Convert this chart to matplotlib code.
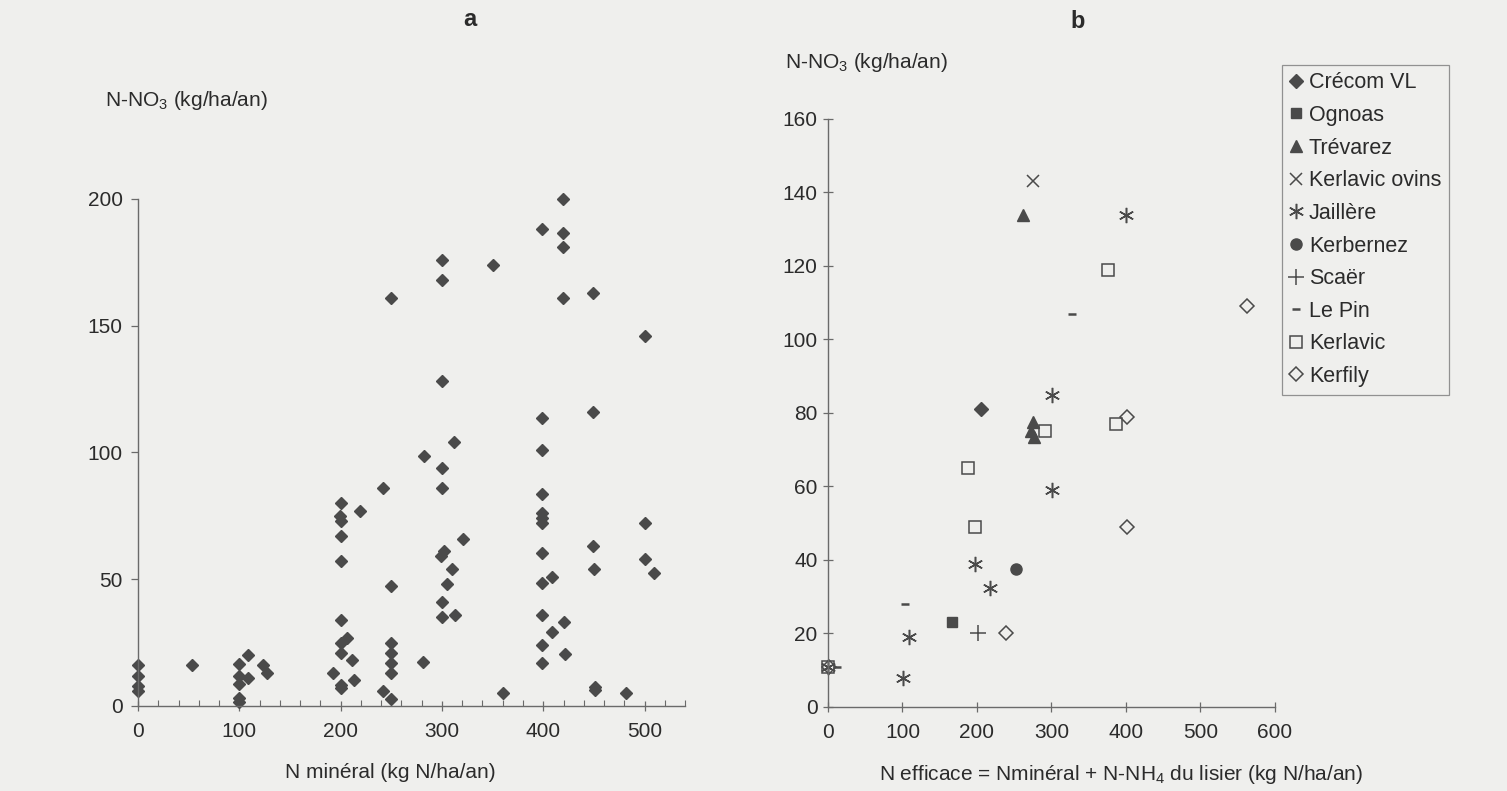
import matplotlib
matplotlib.use("Agg")
import matplotlib.pyplot as plt
from matplotlib.ticker import MultipleLocator

plt.rcParams['font.family'] = ['Liberation Sans', 'DejaVu Sans']
plt.rcParams['mathtext.fontset'] = 'custom'
plt.rcParams['mathtext.rm'] = 'Liberation Sans'
plt.rcParams['mathtext.it'] = 'Liberation Sans'
plt.rcParams['mathtext.default'] = 'rm'

# panel a : N minéral vs N-NO3 (one series, Crécom-type diamonds)
a_x = [0, 0, 0, 0, 53,
       100, 100, 100, 100, 100, 109, 109, 123, 127,
       200, 199, 200, 219, 200, 200, 200, 206, 200, 200, 211, 192, 213, 200, 200,
       242, 250, 250, 250, 250, 250, 242, 250, 282, 281,
       300, 300, 299, 302, 310, 305, 300, 300, 313, 312, 321,
       300, 300, 250, 350, 300,
       399, 419, 419, 419, 419, 449, 500, 449, 399, 399, 399, 399, 399, 399,
       500, 399, 449, 500, 450, 509, 399, 409, 399, 420, 409, 399, 421, 399,
       360, 451, 451, 482]
a_y = [16, 12, 8, 6, 16,
       16.5, 12, 8.7, 3.2, 1.7, 20, 11, 16, 13,
       80, 75, 73, 77, 67, 57, 34, 27, 25, 21, 18, 13, 10.4, 8.4, 6.9,
       86, 47.4, 24.7, 20.8, 16.9, 13, 5.8, 2.6, 98.5, 17.5,
       94, 86, 59, 61, 54, 48, 41, 35, 36, 104, 66,
       176, 168, 161, 174, 128,
       188, 200, 186.5, 181, 161, 163, 146, 116, 113.5, 101, 83.5, 76, 74, 72,
       72, 60.5, 63, 58, 54, 52.5, 48.5, 51, 36, 33, 29, 24, 20.5, 17,
       5, 7.5, 6.3, 5]

# panel b : N efficace vs N-NO3, per site
crecom_x, crecom_y = [206], [81]
ognoas_x, ognoas_y = [167], [23]
trevarez_x, trevarez_y = [262, 275, 273, 277], [134, 77.5, 75, 73.5]
ovins_x, ovins_y = [275], [143]
jaillere_x = [400, 301, 301, 198, 218, 109, 101, 0]
jaillere_y = [134, 85, 59, 39, 32.5, 19, 8, 11]
kerbernez_x, kerbernez_y = [252], [37.5]
scaer_x, scaer_y = [202], [20]
lepin_x, lepin_y = [328, 104, 12], [107, 28, 11]
kerlavic_x = [376, 291, 386, 188, 198, 0]
kerlavic_y = [119, 75, 77, 65, 49, 11]
kerfily_x = [562, 401, 401, 239, 2]
kerfily_y = [109, 79, 49, 20, 11]

ink = '#4a4a4a'
txt = '#2b2b2b'
bg = '#efefed'

fig = plt.figure(figsize=(15.07, 7.91), dpi=100, facecolor=bg)

ax_a = fig.add_axes([0.0916, 0.1075, 0.363, 0.641])
ax_b = fig.add_axes([0.5494, 0.1062, 0.2966, 0.7434])

for ax in (ax_a, ax_b):
    ax.set_facecolor(bg)
    for s in ('top', 'right'):
        ax.spines[s].set_visible(False)
    for s in ('left', 'bottom'):
        ax.spines[s].set_color('#6a6a6a')
        ax.spines[s].set_linewidth(1.0)
    ax.tick_params(colors='#6a6a6a', labelcolor=txt, labelsize=15, width=0.9)

# ---- panel a
ax_a.plot(a_x, a_y, 'D', ms=6.5, color=ink, mec=ink, clip_on=False)
ax_a.set_xlim(0, 540)
ax_a.set_ylim(0, 200)
ax_a.xaxis.set_major_locator(MultipleLocator(100))
ax_a.xaxis.set_minor_locator(MultipleLocator(20))
ax_a.yaxis.set_major_locator(MultipleLocator(50))
ax_a.tick_params(axis='x', which='major', direction='inout', length=7, pad=8)
ax_a.tick_params(axis='x', which='minor', direction='in', length=4, color='#6a6a6a', width=0.8)
ax_a.tick_params(axis='y', which='major', direction='out', length=5, pad=6)
ax_a.set_xticks([0, 100, 200, 300, 400, 500])

# ---- panel b
mk = dict(ls='none', color=ink, clip_on=False)
h = []
h += ax_b.plot(crecom_x, crecom_y, marker='D', ms=7, mec=ink, label='Crécom VL', **mk)
h += ax_b.plot(ognoas_x, ognoas_y, marker='s', ms=6.5, mec=ink, label='Ognoas', **mk)
h += ax_b.plot(trevarez_x, trevarez_y, marker='^', ms=8, mec=ink, label='Trévarez', **mk)
h += ax_b.plot(ovins_x, ovins_y, marker='x', ms=9, mew=1.1, label='Kerlavic ovins', **mk)
h += ax_b.plot(jaillere_x, jaillere_y, marker=(6, 2, 0), ms=11, mew=1.1, label='Jaillère', **mk)
h += ax_b.plot(kerbernez_x, kerbernez_y, marker='o', ms=8, mec=ink, label='Kerbernez', **mk)
h += ax_b.plot(scaer_x, scaer_y, marker='+', ms=11, mew=1.1, label='Scaër', **mk)
h += ax_b.plot(lepin_x, lepin_y, marker='_', ms=6, mew=1.8, label='Le Pin', **mk)
h += ax_b.plot(kerlavic_x, kerlavic_y, marker='s', ms=9, mfc='none', mew=1.1, label='Kerlavic', **mk)
h += ax_b.plot(kerfily_x, kerfily_y, marker='D', ms=7.5, mfc='none', mew=1.1, label='Kerfily', **mk)

ax_b.set_xlim(0, 600)
ax_b.set_ylim(0, 160)
ax_b.xaxis.set_major_locator(MultipleLocator(100))
ax_b.yaxis.set_major_locator(MultipleLocator(20))
ax_b.tick_params(axis='both', which='major', direction='inout', length=7)
ax_b.tick_params(axis='x', pad=8)
ax_b.tick_params(axis='y', pad=4)

leg = fig.legend(handles=h, loc='upper left', bbox_to_anchor=(0.8507, 0.918),
                 borderaxespad=0, frameon=True, fancybox=False, edgecolor='#7a7a7a',
                 facecolor=bg, fontsize=15.5, handlelength=0.6, handletextpad=0.3,
                 labelspacing=0.54, borderpad=0.35, labelcolor=txt)
leg.get_frame().set_linewidth(0.9)

# texts
fig.text(105 / 1507, 1 - 100 / 791, r'N-NO$_3$ (kg/ha/an)', fontsize=15, color=txt,
         ha='left', va='center')
fig.text(785 / 1507, 1 - 62 / 791, r'N-NO$_3$ (kg/ha/an)', fontsize=15, color=txt,
         ha='left', va='center')
fig.text(390 / 1507, 1 - 773 / 791, 'N minéral (kg N/ha/an)', fontsize=15, color=txt,
         ha='center', va='center')
fig.text(1121 / 1507, 1 - 775 / 791, r'N efficace = Nminéral + N-NH$_4$ du lisier (kg N/ha/an)',
         fontsize=15, color=txt, ha='center', va='center')
fig.text(470 / 1507, 1 - 20 / 791, 'a', fontsize=17, fontweight='bold', color=txt,
         ha='center', va='center')
fig.text(1078 / 1507, 1 - 22 / 791, 'b', fontsize=17, fontweight='bold', color=txt,
         ha='center', va='center')

fig.savefig('out.png', dpi=100, facecolor=bg)
